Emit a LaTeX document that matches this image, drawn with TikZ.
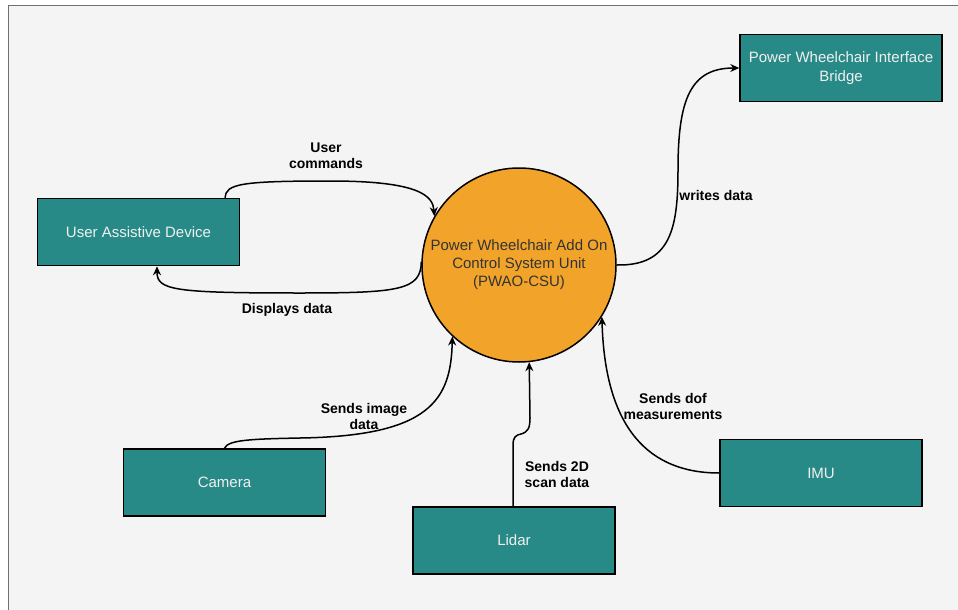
\documentclass[tikz,border=0pt]{standalone}
\usepackage{fontspec}
\setmainfont{Liberation Sans}
\usetikzlibrary{arrows.meta,calc}
\definecolor{tealbox}{RGB}{40,138,135}
\definecolor{orangecsu}{RGB}{242,164,42}
\definecolor{pagebg}{RGB}{244,244,244}
\definecolor{framegray}{RGB}{112,112,112}
\definecolor{csutext}{RGB}{51,51,51}
\begin{document}
\begin{tikzpicture}[x=1pt,y=-1pt,
  unitbox/.style={draw=black,line width=1.5pt,fill=tealbox,text=white!94!black,
    minimum width=202pt,minimum height=67pt,inner sep=0pt,align=center,
    font=\fontsize{15}{19}\selectfont},
  csunode/.style={circle,draw=black,line width=1.5pt,fill=orangecsu,text=csutext,
    minimum size=194pt,inner sep=0pt,align=center,font=\fontsize{15}{18}\selectfont},
  flow/.style={draw=black,line width=1.5pt,-{Stealth[length=9pt,width=8pt]}},
  flowlabel/.style={font=\bfseries\fontsize{14}{16}\selectfont,align=center,inner sep=0pt}]
  % canvas and frame
  \useasboundingbox (0,0) rectangle (958,610);
  \fill[white] (0,0) rectangle (958,610);
  \fill[pagebg] (8,6) rectangle (958,610);
  \draw[framegray,line width=1pt] (8,610) -- (8,6) -- (958,6);

  % units
  \node[csunode] (csu) at (519,265) {Power Wheelchair Add On\\Control System Unit\\(PWAO-CSU)};
  \node[unitbox] (uad) at (138.5,232) {User Assistive Device};
  \node[unitbox] (pwib) at (841,68) {Power Wheelchair Interface\\Bridge};
  \node[unitbox] (cam) at (224.5,482.5) {Camera};
  \node[unitbox] (lidar) at (514,540.5) {Lidar};
  \node[unitbox] (imu) at (821,473) {IMU};

  % data flows
  \draw[flow] ($(uad.north)+(86.5,0)$) .. controls (226,184) and (240,181) .. (330,181)
    .. controls (420,181) and (433,196) .. (csu.150);
  \draw[flow] (csu.178) .. controls (421,290) and (400,293) .. (300,293)
    .. controls (172,293) and (157,290) .. ($(uad.south)+(18.5,0)$);
  \draw[flow] (csu.0) .. controls (670,266) and (678,230) .. (678,170)
    .. controls (678,100) and (690,68) .. (pwib.west);
  \draw[flow] (cam.north) .. controls (228,440) and (250,439) .. (300,438)
    .. controls (430,436) and (451,400) .. (csu.227);
  \draw[flow] ($(lidar.north)+(-1,0)$) -- (513,445) .. controls (513,437) and (516,435) .. (521,434)
    .. controls (528,432) and (530,428) .. (530,418) -- (csu.276);
  \draw[flow] (imu.west) .. controls (650,473) and (605,430) .. (csu.328);

  % flow labels
  \node[flowlabel] (lblcmd) at (326,156) {User\\commands};
  \node[flowlabel] (lbldisp) at (287,310) {Displays data};
  \node[flowlabel] (lblwrite) at (716,195) {writes data};
  \node[flowlabel] (lblimg) at (364,416) {Sends image\\data};
  \node[flowlabel] (lblscan) at (557,474) {Sends 2D\\scan data};
  \node[flowlabel] (lbldof) at (673,406) {Sends dof\\measurements};
\end{tikzpicture}
\end{document}
